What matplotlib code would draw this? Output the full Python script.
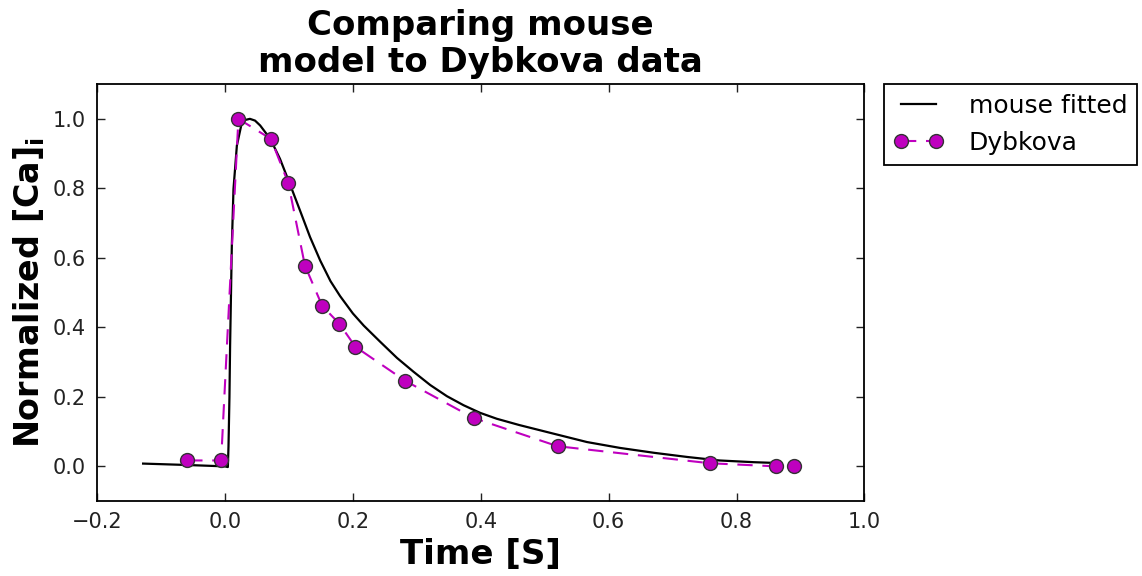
import matplotlib
matplotlib.use("Agg")
import matplotlib.pyplot as plt

plt.rcParams['lines.scale_dashes'] = False

# Fitted model curve
time_fit = [-0.128, -0.06, 0.0, 0.0045, 0.0055, 0.007, 0.008, 0.0107, 0.0133,
            0.0186, 0.026, 0.032, 0.039, 0.047, 0.055, 0.071, 0.086, 0.102,
            0.118, 0.133, 0.149, 0.165, 0.180, 0.200, 0.217, 0.243, 0.269,
            0.295, 0.321, 0.347, 0.373, 0.399, 0.425, 0.460, 0.514, 0.566,
            0.618, 0.671, 0.723, 0.773, 0.827, 0.858]
ca_fit = [0.008, 0.004, 0.0, -0.002, 0.056, 0.20, 0.345, 0.634, 0.798,
          0.923, 0.986, 0.997, 1.0, 0.995, 0.981, 0.942, 0.885, 0.810,
          0.733, 0.660, 0.592, 0.533, 0.490, 0.440, 0.405, 0.358, 0.312,
          0.272, 0.234, 0.202, 0.176, 0.154, 0.137, 0.119, 0.094, 0.070,
          0.053, 0.039, 0.027, 0.017, 0.012, 0.010]

# Dybkova data points
time_data = [-0.059, -0.006, 0.021, 0.072, 0.099, 0.125, 0.152, 0.179, 0.204,
             0.282, 0.389, 0.520, 0.758, 0.862, 0.889]
ca_data = [0.017, 0.017, 1.0, 0.942, 0.815, 0.578, 0.462, 0.41, 0.344,
           0.246, 0.139, 0.058, 0.009, 0.0, 0.0]

xticks = [-0.2, 0.0, 0.2, 0.4, 0.6, 0.8, 1.0]
yticks = [0.0, 0.2, 0.4, 0.6, 0.8, 1.0]

fig = plt.figure(figsize=(11.42, 5.76), dpi=100)
ax = fig.add_axes([0.085, 0.130, 0.672, 0.724])

ax.plot(time_fit, ca_fit, color='black', lw=1.6, label='mouse fitted')
ax.plot(time_data, ca_data, color='m', ls='--', dashes=(11, 7), lw=1.5,
        marker='o', markersize=10, markerfacecolor='m',
        markeredgecolor='#333333', markeredgewidth=1.0, label='Dybkova')

ax.set_xlim(-0.2, 1.0)
ax.set_ylim(-0.1, 1.1)
ax.set_xticks(xticks)
ax.set_yticks(yticks)
ax.set_xticklabels(['\u2212%.1f' % -t if t < 0 else '%.1f' % t for t in xticks])
ax.set_yticklabels(['%.1f' % t for t in yticks])
ax.tick_params(direction='in', top=True, right=True, length=6, width=1,
               labelsize=15, pad=8, colors='#222222')
for s in ax.spines.values():
    s.set_linewidth(1.3)

ax.set_xlabel('Time [S]', fontsize=24.5, fontweight='bold', labelpad=4)
ax.set_ylabel(r'Normalized [Ca]$_\mathbf{i}$', fontsize=24, fontweight='bold',
              labelpad=4)
ax.set_title('Comparing mouse\nmodel to Dybkova data', fontsize=24.5,
             fontweight='bold', linespacing=1.12, pad=9)

leg = ax.legend(loc='upper left', bbox_to_anchor=(1.025, 1.0), borderaxespad=0,
                fontsize=18, numpoints=2, fancybox=False, framealpha=1,
                edgecolor='black', handlelength=2.0, handletextpad=1.0)
leg.get_frame().set_linewidth(1.3)

fig.savefig('out.png', dpi=100, facecolor='white')
